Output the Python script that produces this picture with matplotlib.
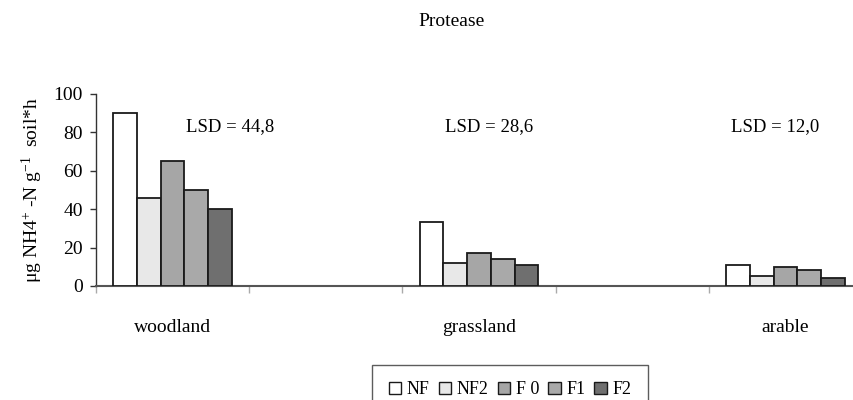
import matplotlib.pyplot as plt
from matplotlib.patches import Patch

plt.rcParams["font.family"] = ["Liberation Serif", "DejaVu Serif"]
plt.rcParams["mathtext.fontset"] = "custom"
plt.rcParams["mathtext.rm"] = "Liberation Serif"
plt.rcParams["mathtext.it"] = "Liberation Serif:italic"

# protease activity per land use and treatment
sites = ["woodland", "grassland", "arable"]
treatments = ["NF", "NF2", "F 0", "F1", "F2"]
NF = [90, 33.5, 11]
NF2 = [46, 12, 5.3]
F0 = [65, 17, 10.1]
F1 = [50, 14.3, 8.5]
F2 = [40, 11, 4.2]
lsd_labels = ["LSD = 44,8", "LSD = 28,6", "LSD = 12,0"]

colors = ["#ffffff", "#e8e8e8", "#a6a6a6", "#a9a9a9", "#6f6f6f"]
series = [NF, NF2, F0, F1, F2]

# each site sits in every other category slot (empty slots between)
site_pos = [0.5, 2.5, 4.5]
bar_w = 0.155

fig = plt.figure(figsize=(8.54, 4.0), dpi=100)
ax = fig.add_axes([96 / 854, 1 - 286 / 400, (862 - 96) / 854, 192 / 400])

for i, (vals, col) in enumerate(zip(series, colors)):
    xs = [p + (i - 2) * bar_w for p in site_pos]
    ax.bar(xs, vals, width=bar_w, color=col, edgecolor="#1a1a1a",
           linewidth=1.3, zorder=3)

lsd_x = [0.875, 2.565, 4.43]
for x, txt in zip(lsd_x, lsd_labels):
    ax.text(x, 83, txt, ha="center", va="center", fontsize=13.5)

ax.set_xlim(0, 5)
ax.set_ylim(0, 100)
ax.set_yticks(range(0, 101, 20))
ax.tick_params(axis="y", direction="out", length=4.5, width=1,
               labelsize=14, pad=5, color="#333333")

ax.set_xticks(range(0, 6))
ax.set_xticklabels([])
ax.tick_params(axis="x", which="major", direction="out", length=5,
               width=1, color="#aaaaaa")
ax.set_xticks(site_pos, minor=True)
ax.set_xticklabels(sites, minor=True, fontsize=14)
ax.tick_params(axis="x", which="minor", length=0, pad=24)

for s in ["top", "right"]:
    ax.spines[s].set_visible(False)
ax.spines["left"].set_color("#333333")
ax.spines["bottom"].set_color("#555555")
ax.spines["left"].set_linewidth(1.0)
ax.spines["bottom"].set_linewidth(1.5)

ax.set_ylabel(r"μg NH4$^{+}$ -N g$^{-1}$  soil*h", fontsize=14, labelpad=6)

fig.text(452 / 854, 1 - 22 / 400, "Protease", ha="center", va="center",
         fontsize=14)

handles = [Patch(facecolor=c, edgecolor="#1a1a1a", linewidth=1.0)
           for c in colors]
leg = fig.legend(handles, treatments, loc="upper center", ncol=5,
                 bbox_to_anchor=(510 / 854, 1 - 365 / 400), fontsize=13,
                 frameon=True, fancybox=False, edgecolor="#333333",
                 handlelength=0.7, handleheight=0.7, handletextpad=0.3,
                 columnspacing=0.5, borderpad=0.9, borderaxespad=0)
leg.get_frame().set_linewidth(1.0)

fig.savefig("out.png", dpi=100)
